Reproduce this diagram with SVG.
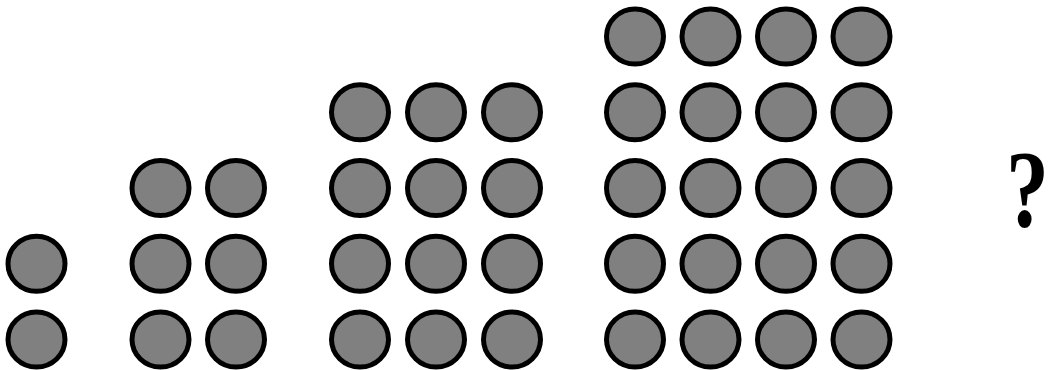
<svg xmlns="http://www.w3.org/2000/svg" width="1050" height="370" viewBox="0 0 1050 370">
<defs>
<style>
.d{fill:#808080;stroke:#000;stroke-width:5}
.q{font-family:"Liberation Serif",serif;font-weight:bold;fill:#000}
</style>
<ellipse id="c" class="d" cx="0" cy="0" rx="28.5" ry="27.5"/>
</defs>
<rect width="1050" height="370" fill="#fff"/>
<g id="group1">
<use href="#c" x="36.5" y="339.5"/>
<use href="#c" x="36.5" y="263.75"/>
</g>
<g id="group2">
<use href="#c" x="160.5" y="339.5"/><use href="#c" x="236" y="339.5"/>
<use href="#c" x="160.5" y="263.75"/><use href="#c" x="236" y="263.75"/>
<use href="#c" x="160.5" y="188"/><use href="#c" x="236" y="188"/>
</g>
<g id="group3">
<use href="#c" x="360" y="339.5"/><use href="#c" x="436" y="339.5"/><use href="#c" x="512" y="339.5"/>
<use href="#c" x="360" y="263.75"/><use href="#c" x="436" y="263.75"/><use href="#c" x="512" y="263.75"/>
<use href="#c" x="360" y="188"/><use href="#c" x="436" y="188"/><use href="#c" x="512" y="188"/>
<use href="#c" x="360" y="112.25"/><use href="#c" x="436" y="112.25"/><use href="#c" x="512" y="112.25"/>
</g>
<g id="group4">
<use href="#c" x="635" y="339.5"/><use href="#c" x="710.5" y="339.5"/><use href="#c" x="786" y="339.5"/><use href="#c" x="861.5" y="339.5"/>
<use href="#c" x="635" y="263.75"/><use href="#c" x="710.5" y="263.75"/><use href="#c" x="786" y="263.75"/><use href="#c" x="861.5" y="263.75"/>
<use href="#c" x="635" y="188"/><use href="#c" x="710.5" y="188"/><use href="#c" x="786" y="188"/><use href="#c" x="861.5" y="188"/>
<use href="#c" x="635" y="112.25"/><use href="#c" x="710.5" y="112.25"/><use href="#c" x="786" y="112.25"/><use href="#c" x="861.5" y="112.25"/>
<use href="#c" x="635" y="36.5"/><use href="#c" x="710.5" y="36.5"/><use href="#c" x="786" y="36.5"/><use href="#c" x="861.5" y="36.5"/>
</g>
<g id="question">
<text class="q" x="0" y="0" font-size="110" text-anchor="middle" transform="translate(1027.5,226) scale(0.78,1)">?</text>
</g>
</svg>
